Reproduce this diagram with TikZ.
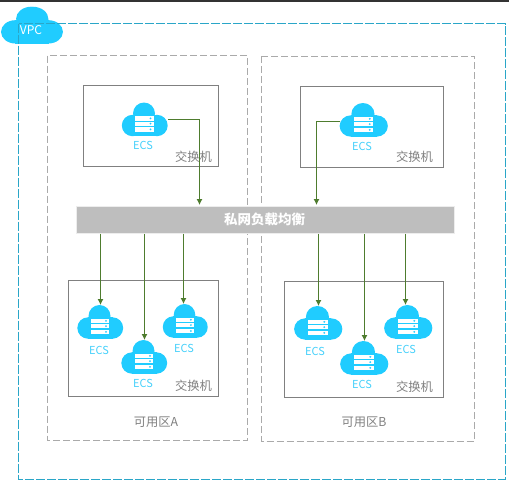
\documentclass[tikz,border=0pt]{standalone}
\usepackage{fontspec}
\usetikzlibrary{arrows.meta}
\setmainfont{Noto Sans CJK SC}
\definecolor{cloudblue}{RGB}{32,204,255}
\definecolor{ecsblue}{RGB}{70,208,250}
\definecolor{vpcline}{RGB}{42,166,200}
\definecolor{zoneline}{RGB}{170,170,170}
\definecolor{boxline}{RGB}{128,128,128}
\definecolor{linkgreen}{RGB}{78,124,46}
\tikzset{
  zonebox/.style={draw=zoneline, line width=1pt, dash pattern=on 7pt off 3pt},
  switchbox/.style={draw=boxline, line width=1pt},
  ecsbox/.style={minimum width=46pt, minimum height=34pt, inner sep=0pt, outer sep=0pt},
  ecstext/.style={text=ecsblue, font=\fontsize{11}{13}\selectfont, inner sep=0pt},
  graytext/.style={text=boxline, font=\fontsize{12.3}{15}\selectfont, inner sep=0pt},
  link/.style={draw=linkgreen, line width=1pt, -{Latex[length=6pt,width=6pt]}},
}
% filled cloud outline around the current origin
\newcommand{\cloudshape}{
  \fill[cloudblue] (-12.5,6) circle (10.7);
  \fill[cloudblue] (12,6) circle (10.7);
  \fill[cloudblue] (-1,-6) circle (11);
  \fill[cloudblue] (-12.5,-4.7) rectangle (12,16.7);
}
% cloud with server stack: name, x, y, width, x scale
\newcommand{\ecscloud}[5]{
  \node[ecsbox, minimum width=#4pt] (#1) at (#2,#3) {};
  \begin{scope}[shift={(#2,#3)}, xscale=#5]
    \cloudshape
    \fill[white] (-10,-3.3) rectangle (8.7,1);
    \fill[white] (-10,2) rectangle (8.7,6.2);
    \fill[white] (-10,7.6) rectangle (8.7,12.2);
    \fill[cloudblue] (5.5,-1.2) circle (1);
    \fill[cloudblue] (5.5,4.1) circle (1);
    \fill[cloudblue] (5.5,9.9) circle (1);
  \end{scope}
}
\begin{document}
\begin{tikzpicture}[x=1pt, y=-1pt]
  \useasboundingbox (0,0) rectangle (509,485);
  \fill[black!80] (0,0) rectangle (509,2);

  % vpc cloud and outer frame
  \begin{scope}[shift={(32.3,25.3)}, xscale=1.35, yscale=1.09]
    \cloudshape
    \fill[cloudblue] (0.5,-5.5) circle (11.5);
  \end{scope}
  \draw[vpcline, line width=1pt, dash pattern=on 9pt off 2pt] (18.5,23.5) rectangle (505,479);
  \node[text=white, font=\fontsize{12}{14}\selectfont, inner sep=0pt] (vpc) at (31,30) {VPC};

  % zones
  \draw[zonebox] (47.5,55.5) rectangle (247.5,440);
  \draw[zonebox] (261.5,56) rectangle (474.5,441);
  \node[graytext] (zonea) at (156,422.5) {可用区A};
  \node[graytext] (zoneb) at (364,422.5) {可用区B};

  % switches
  \draw[switchbox] (83.5,85.5) rectangle (218.5,166);
  \draw[switchbox] (300.5,86) rectangle (443.5,167);
  \draw[switchbox] (68.5,280.5) rectangle (218.5,396);
  \draw[switchbox] (284.5,281.5) rectangle (443.5,397);
  \node[graytext] (swa) at (193.5,157) {交换机};
  \node[graytext] (swb) at (414.5,157) {交换机};
  \node[graytext] (swc) at (193.5,386) {交换机};
  \node[graytext] (swd) at (414.5,387) {交换机};

  % load balancer
  \node[fill=black!25.5, draw=black!7, line width=1pt, minimum width=378pt, minimum height=27pt,
        inner sep=0pt, text=white, font=\bfseries\fontsize{13.5}{16}\selectfont] (lb) at (265.5,219.5) {\hspace*{-2pt}私网负载均衡};
  \coordinate (lbina) at (199.5,206);
  \coordinate (lbinb) at (316.5,206);

  % ecs clouds
  \ecscloud{ecsa}{145}{119.5}{46}{1}
  \ecscloud{ecsb}{364}{120}{48}{1.05}
  \ecscloud{ecsc}{100.5}{322}{46}{1}
  \ecscloud{ecsd}{144.5}{357}{46}{1}
  \ecscloud{ecse}{185.5}{321}{45}{0.98}
  \ecscloud{ecsf}{318.5}{323}{48}{1.05}
  \ecscloud{ecsg}{364.5}{358}{48}{1.05}
  \ecscloud{ecsh}{408.5}{322}{49}{1.05}
  \node[ecstext] (ecsatxt) at (143,145) {ECS};
  \node[ecstext] (ecsbtxt) at (362,146) {ECS};
  \node[ecstext] (ecsctxt) at (99,350) {ECS};
  \node[ecstext] (ecsdtxt) at (143,383) {ECS};
  \node[ecstext] (ecsetxt) at (184,348) {ECS};
  \node[ecstext] (ecsftxt) at (315,351) {ECS};
  \node[ecstext] (ecsgtxt) at (362,384) {ECS};
  \node[ecstext] (ecshtxt) at (406,349) {ECS};

  % links into and out of the load balancer
  \draw[link, shorten >=1pt] (ecsa.east) -| (lbina);
  \draw[link, shorten >=1pt] ([yshift=-1.5pt]ecsb.west) -| (lbinb);
  \draw[link] (lb.south -| ecsc.north) -- (ecsc.north);
  \draw[link] (lb.south -| ecsd.north) -- (ecsd.north);
  \draw[link] ([xshift=-2pt]lb.south -| ecse.north) -- ([xshift=-2pt]ecse.north);
  \draw[link] (lb.south -| ecsf.north) -- (ecsf.north);
  \draw[link] (lb.south -| ecsg.north) -- (ecsg.north);
  \draw[link] ([xshift=-3pt]lb.south -| ecsh.north) -- ([xshift=-3pt]ecsh.north);
\end{tikzpicture}
\end{document}
